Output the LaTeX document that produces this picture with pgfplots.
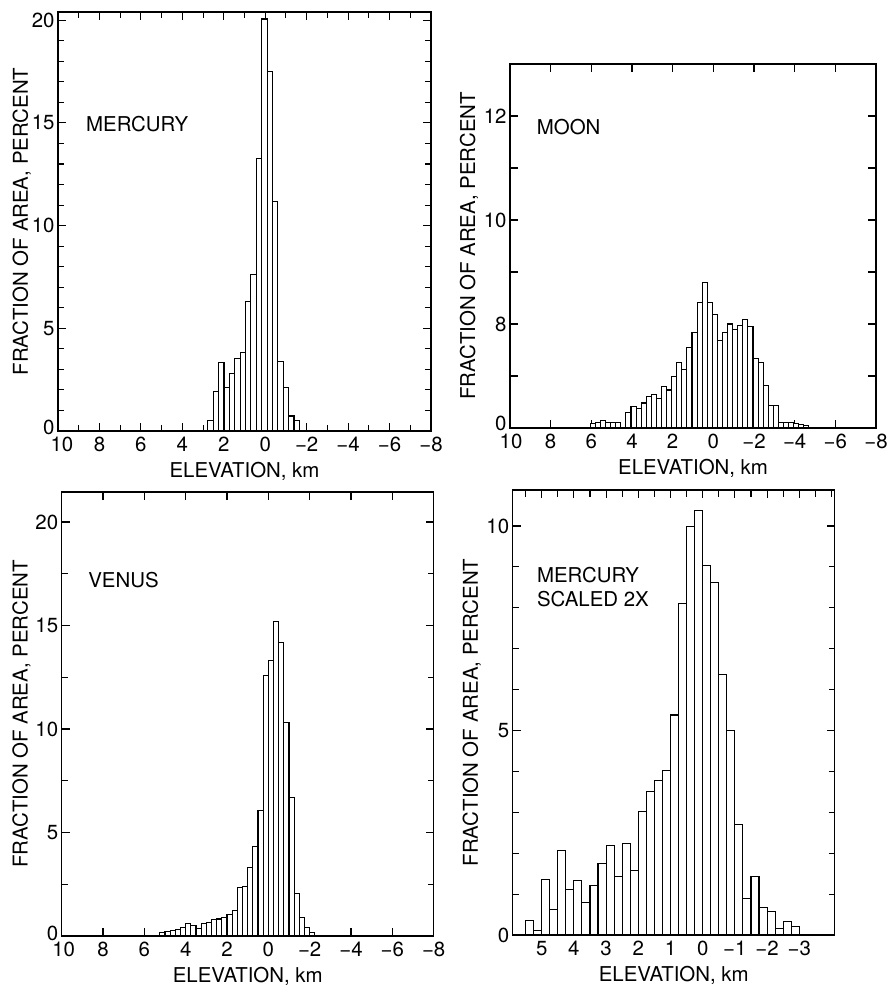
\documentclass[border=0pt]{standalone}
\usepackage{fontspec}
\setmainfont{TeX Gyre Heros}
\usepackage{pgfplots}
\pgfplotsset{compat=1.18}

\newcommand{\bigf}{\fontsize{20.5}{24}\selectfont}

\pgfplotsset{
  panel/.style={
    scale only axis,
    anchor=south west,
    x dir=reverse,
    ymin=0,
    axis line style={line width=1.4bp},
    tick style={black, line width=1.1bp},
    major tick length=8bp,
    minor tick length=6bp,
    tick label style={font=\bigf},
    every axis x label/.style={at={(axis description cs:0.5,0)}, anchor=center, yshift=-40bp, font=\bigf},
    xticklabel style={inner ysep=0pt, yshift=-6.3bp},
    yticklabel style={inner ysep=0pt},
    ylabel={FRACTION OF AREA, PERCENT},
    xlabel={ELEVATION, km},
  },
  ylab/.style={every axis y label/.style={at={(axis description cs:#1,0.5)}, rotate=90, anchor=center, font=\bigf}},
  corner/.style 2 args={
    extra x ticks={10}, extra x tick labels={10},
    extra y ticks={0}, extra y tick labels={0},
    extra x tick style={xticklabel style={xshift=#1}},
    extra y tick style={yticklabel style={yshift=#2}},
  },
  hbar/.style={ybar, bar shift=0pt, fill=white, draw=black, line width=1.1bp},
}
\tikzset{lab/.style={anchor=west, font=\bigf, inner sep=0pt}}

\begin{document}
\begin{tikzpicture}
\useasboundingbox (0,0) rectangle (892bp,990bp);

% ---------------- MERCURY ----------------
\begin{axis}[panel, ylab=-0.097, corner={4bp}{4bp}, at={(58bp,559bp)}, width=373bp, height=419bp,
  xmin=-8, xmax=10, ymax=20.4,
  xtick={10,8,...,-8}, xticklabels={{},8,6,4,2,0,−2,−4,−6,−8}, minor x tick num=1,
  ytick={0,5,10,15,20}, yticklabels={{},5,10,15,20}, minor y tick num=4,
]
\addplot[hbar, bar width=0.26] coordinates {
(2.64,0.52) (2.38,1.94) (2.12,3.32) (1.86,2.10) (1.60,2.78) (1.34,3.53)
(1.08,3.80) (0.82,6.31) (0.56,7.64) (0.30,13.27) (0.04,20.06) (-0.22,17.52)
(-0.48,11.17) (-0.74,3.40) (-1.00,2.10) (-1.26,0.73) (-1.52,0.52)
};
\node[lab] at (axis description cs:0.075,0.732) {MERCURY};
\end{axis}

% ---------------- MOON ----------------
\begin{axis}[panel, ylab=-0.112, corner={1bp}{5bp}, at={(510bp,562bp)}, width=366bp, height=364bp,
  xmin=-8, xmax=10, ymax=7,
  xtick={10,8,...,-8}, xticklabels={{},8,6,4,2,0,−2,−4,−6,−8},
  ytick={0,1,2,3,4,5,6}, yticklabels={{},{},8,{},10,{},12},
]
\addplot[hbar, bar width=0.25] coordinates {
(5.925,0.08) (5.675,0.11) (5.425,0.14) (5.175,0.11) (4.925,0.10) (4.675,0.10)
(4.175,0.30) (3.925,0.41) (3.675,0.38) (3.425,0.48) (3.175,0.60) (2.925,0.65)
(2.675,0.56) (2.425,0.79) (2.175,0.73) (1.925,0.99) (1.675,1.26) (1.425,1.12)
(1.175,1.55) (0.925,1.84) (0.675,2.42) (0.425,2.79) (0.175,2.42) (-0.075,2.19)
(-0.325,1.68) (-0.575,1.84) (-0.825,2.00) (-1.075,1.90) (-1.325,1.97) (-1.575,2.08)
(-1.825,1.95) (-2.075,1.33) (-2.325,1.26) (-2.575,0.81) (-2.825,0.43) (-3.075,0.43)
(-3.325,0.11) (-3.575,0.11) (-3.825,0.11) (-4.075,0.08) (-4.325,0.06) (-4.575,0.04)
};
\node[lab] at (axis description cs:0.073,0.828) {MOON};
\end{axis}

% ---------------- VENUS ----------------
\begin{axis}[panel, ylab=-0.108, corner={2bp}{3bp}, at={(61.7bp,54bp)}, width=372bp, height=444bp,
  xmin=-8, xmax=10, ymax=21.45,
  xtick={10,8,...,-8}, xticklabels={{},8,6,4,2,0,−2,−4,−6,−8},
  ytick={0,5,10,15,20}, yticklabels={{},5,10,15,20}, minor y tick num=1,
]
\addplot[hbar, bar width=0.25] coordinates {
(5.125,0.15) (4.875,0.20) (4.625,0.25) (4.375,0.30) (4.125,0.40) (3.875,0.60)
(3.625,0.50) (3.375,0.35) (3.125,0.60) (2.875,0.65) (2.625,0.80) (2.375,0.82)
(2.125,0.90) (1.875,1.05) (1.625,1.25) (1.375,2.33) (1.125,2.41) (0.875,3.30)
(0.625,4.33) (0.375,6.06) (0.125,12.6) (-0.125,13.3) (-0.375,15.2) (-0.625,14.2)
(-0.875,10.3) (-1.125,6.7) (-1.375,2.06) (-1.625,0.90) (-1.875,0.42) (-2.125,0.16)
};
\node[lab] at (axis description cs:0.071,0.802) {VENUS};
\end{axis}

% ---------------- MERCURY SCALED 2X ----------------
\begin{axis}[panel, ylab=-0.127, at={(512.7bp,55bp)}, width=322bp, height=445bp,
  xmin=-4.1, xmax=5.9, ymax=10.88,
  xtick={5,4,...,-3}, xticklabels={5,4,3,2,1,0,−1,−2,−3},
  ytick={0,5,10}, yticklabels={0,5,10}, minor y tick num=4,
]
\addplot[hbar, bar width=0.25] coordinates {
(5.375,0.35) (5.125,0.11) (4.875,1.36) (4.625,0.63) (4.375,2.06) (4.125,1.12)
(3.875,1.34) (3.625,0.79) (3.375,1.22) (3.125,1.75) (2.875,2.18) (2.625,1.44)
(2.375,2.24) (2.125,1.57) (1.875,3.03) (1.625,3.50) (1.375,3.77) (1.125,4.03)
(0.875,5.38) (0.625,8.11) (0.375,9.98) (0.125,10.37) (-0.125,9.03) (-0.375,8.62)
(-0.625,6.38) (-0.875,5.00) (-1.125,2.71) (-1.375,0.90) (-1.625,1.43) (-1.875,0.68)
(-2.125,0.57) (-2.375,0.16) (-2.625,0.33) (-2.875,0.20)
};
\node[lab] at (axis description cs:0.075,0.809) {MERCURY};
\node[lab] at (axis description cs:0.075,0.755) {SCALED 2X};
\end{axis}
% top half-km ticks of the scaled panel
\begin{axis}[scale only axis, anchor=south west, at={(512.7bp,55bp)}, width=322bp, height=445bp,
  x dir=reverse, xmin=-4.1, xmax=5.9, ymin=0, ymax=10.88,
  axis x line*=top, axis y line=none,
  axis line style={line width=1.4bp, -},
  tick style={black, line width=1.1bp},
  tick align=inside, major tick length=7bp,
  xtick={5.5,5,...,-4}, xticklabels={},
]
\end{axis}

\end{tikzpicture}
\end{document}
